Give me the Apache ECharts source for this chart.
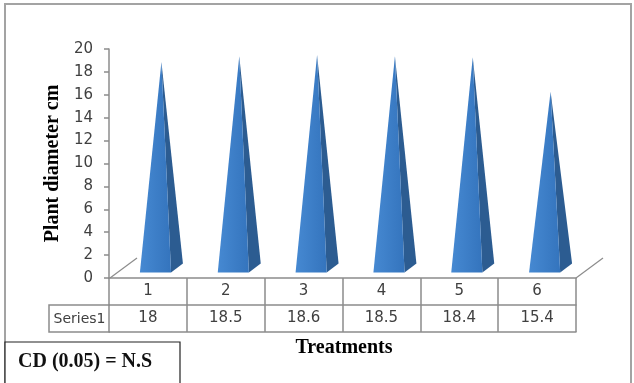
<!DOCTYPE html>
<html>
<head>
<meta charset="utf-8">
<script src="https://cdn.jsdelivr.net/npm/echarts@6/dist/echarts.min.js"></script>
<style>
html,body{margin:0;padding:0;background:#fff;}
#main{width:634px;height:383px;}
</style>
</head>
<body>
<div id="main"></div>
<script>
// ---- data ----
var categories = ['1', '2', '3', '4', '5', '6'];
var values = [18, 18.5, 18.6, 18.5, 18.4, 15.4];
var yTicks = [0, 2, 4, 6, 8, 10, 12, 14, 16, 18, 20];
var seriesName = 'Series1';
var yTitle = 'Plant diameter cm';
var xTitle = 'Treatments';
var note = 'CD (0.05) = N.S';

var lineColor = '#8c8c8c';
var labelFont = 'DejaVu Sans';
var labelSize = 15;
var serif = 'Liberation Serif';

// depth vector of the 3D floor (pixels)
var DX = 27, DY = -20;

var chart = echarts.init(document.getElementById('main'), null, {renderer: 'canvas'});

function renderPyramid(params, api) {
  var i = api.value(0), v = api.value(1);
  var top = api.coord([i, v]);
  var base = api.coord([i, 0]);
  var bw = api.size([1, 0])[0];
  var hw = bw * 0.2;
  var f = 0.28, b = 0.72, c = 0.5;
  var FL = [base[0] - hw + DX * f, base[1] + DY * f];
  var FR = [base[0] + hw + DX * f, base[1] + DY * f];
  var BR = [base[0] + hw + DX * b, base[1] + DY * b];
  var tip = [top[0] + DX * c, top[1] + DY * c];
  return {
    type: 'group',
    children: [
      {
        type: 'polygon',
        shape: {points: [FR, BR, tip]},
        style: {fill: '#2c5c91'}
      },
      {
        type: 'polygon',
        shape: {points: [FL, FR, tip]},
        style: {
          fill: new echarts.graphic.LinearGradient(0, 0, 1, 0, [
            {offset: 0, color: '#4689d2'},
            {offset: 1, color: '#3474bd'}
          ])
        }
      }
    ]
  };
}

var option = {
  animation: false,
  backgroundColor: '#fff',
  grid: {left: 109, right: 58, top: 49, bottom: 105, containLabel: false},
  xAxis: [
    {
      type: 'category',
      data: categories,
      position: 'bottom',
      boundaryGap: true,
      axisLine: {show: true, lineStyle: {color: lineColor, width: 1.5}},
      axisTick: {show: true, length: 54, inside: false, alignWithLabel: false, lineStyle: {color: lineColor, width: 1.5}},
      axisLabel: {show: true, margin: 6, color: '#404040', fontFamily: labelFont, fontSize: labelSize},
      splitLine: {show: false}
    },
    {
      type: 'category',
      data: values.map(function (v) { return String(v); }),
      position: 'bottom',
      offset: 27,
      boundaryGap: true,
      axisLine: {show: true, lineStyle: {color: lineColor, width: 1.5}},
      axisTick: {show: false},
      axisLabel: {show: true, margin: 6, color: '#404040', fontFamily: labelFont, fontSize: labelSize},
      splitLine: {show: false}
    },
    {
      type: 'category',
      data: categories,
      position: 'bottom',
      offset: 54,
      boundaryGap: true,
      axisLine: {show: true, lineStyle: {color: lineColor, width: 1.5}},
      axisTick: {show: false},
      axisLabel: {show: false},
      splitLine: {show: false}
    }
  ],
  yAxis: {
    type: 'value',
    min: yTicks[0],
    max: yTicks[yTicks.length - 1],
    interval: yTicks[1] - yTicks[0],
    name: yTitle,
    nameLocation: 'middle',
    nameRotate: 90,
    nameGap: 43,
    nameTextStyle: {fontFamily: serif, fontWeight: 'bold', fontSize: 20, color: '#000'},
    axisLine: {show: true, lineStyle: {color: lineColor, width: 1.5}},
    axisTick: {show: true, length: 5, inside: false, lineStyle: {color: lineColor, width: 1.5}},
    axisLabel: {margin: 16, color: '#404040', fontFamily: labelFont, fontSize: labelSize},
    splitLine: {show: false}
  },
  series: [
    {
      name: seriesName,
      type: 'custom',
      xAxisIndex: 0,
      yAxisIndex: 0,
      renderItem: renderPyramid,
      clip: false,
      data: values.map(function (v, i) { return [i, v]; })
    }
  ],
  graphic: [
    // outer chart border
    {type: 'rect', shape: {x: 5, y: 4, width: 626, height: 420}, style: {fill: 'none', stroke: '#a3a3a3', lineWidth: 2}, z: 0},
    // floor side edges
    {type: 'line', shape: {x1: 110, y1: 278, x2: 110 + DX, y2: 278 + DY}, style: {stroke: lineColor, lineWidth: 1.2}},
    {type: 'line', shape: {x1: 576, y1: 278, x2: 576 + DX, y2: 278 + DY}, style: {stroke: lineColor, lineWidth: 1.2}},
    // legend-key cell of the data table
    {type: 'polyline', shape: {points: [[110, 305], [49, 305], [49, 332], [110, 332]]}, style: {fill: 'none', stroke: lineColor, lineWidth: 1.5}},
    {type: 'text', x: 79.5, y: 319, style: {text: seriesName, fontFamily: labelFont, fontSize: labelSize - 1, fill: '#404040', align: 'center', verticalAlign: 'middle'}},
    // x title
    {type: 'text', x: 344, y: 348, style: {text: xTitle, fontFamily: serif, fontWeight: 'bold', fontSize: 20, fill: '#000', align: 'center', verticalAlign: 'middle'}},
    // CD box
    {type: 'rect', shape: {x: 5, y: 342, width: 175, height: 60}, style: {fill: '#fff', stroke: '#222', lineWidth: 1.2}},
    {type: 'text', x: 18, y: 362, style: {text: note, fontFamily: serif, fontWeight: 'bold', fontSize: 20, fill: '#111', align: 'left', verticalAlign: 'middle'}}
  ]
};

chart.setOption(option);
</script>
</body>
</html>
